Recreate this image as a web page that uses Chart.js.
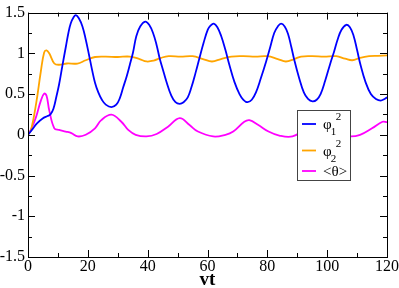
<!DOCTYPE html>
<html>
<head>
<meta charset="utf-8">
<script src="https://cdn.jsdelivr.net/npm/chart.js@4"></script>
<style>
  html, body { margin: 0; padding: 0; background: #fff; }
</style>
</head>
<body>
<canvas id="chart" width="399" height="288"></canvas>
<script>
// phi_1^2
const phi1X = [0, 1.5, 3, 4.9, 6.5, 7.5, 8.5, 9.5, 10.4, 11.5, 12.7, 13.5, 14.3, 15.2, 16, 17, 18.2, 19.3, 20.4, 21.4,
  22.4, 23.5, 24.7, 26, 27.9, 29.5, 30.7, 31.8, 33, 34, 35.1, 36.2, 37.5, 39.2, 40.5, 41.8, 43, 44, 45.1, 46.2,
  47.9, 49.3, 50.7, 52, 53.4, 54.6, 56, 57.3, 58.7, 60.1, 61, 62.1, 63.3, 64.6, 66, 67.3, 69, 70.7, 72, 73.4,
  74.8, 76.2, 77.8, 79.6, 81, 82.3, 83.5, 84.6, 85.8, 86.9, 88, 89, 90.6, 92.2, 93.6, 95.1, 96.5, 97.8, 99.3, 101,
  102.3, 103.5, 104.8, 106.4, 107.6, 108.8, 110, 111.2, 112.8, 114.6, 116.3, 117.9, 119.2, 120];
const phi1Y = [0, 0.07, 0.14, 0.2, 0.23, 0.25, 0.32, 0.47, 0.62, 0.85, 1.09, 1.25, 1.37, 1.44, 1.47, 1.43, 1.33, 1.17, 0.98, 0.8,
  0.64, 0.52, 0.43, 0.37, 0.34, 0.37, 0.45, 0.58, 0.72, 0.855, 1.01, 1.21, 1.33, 1.39, 1.35, 1.25, 1.1, 0.94, 0.8, 0.66,
  0.48, 0.4, 0.38, 0.4, 0.46, 0.58, 0.76, 0.94, 1.13, 1.29, 1.34, 1.365, 1.32, 1.21, 1.04, 0.86, 0.65, 0.5, 0.43, 0.4,
  0.43, 0.52, 0.69, 0.9, 1.08, 1.25, 1.33, 1.365, 1.33, 1.24, 1.08, 0.92, 0.7, 0.52, 0.44, 0.41, 0.43, 0.5, 0.66, 0.87,
  1.02, 1.17, 1.29, 1.35, 1.32, 1.22, 1.04, 0.85, 0.65, 0.5, 0.44, 0.42, 0.44, 0.46];

// phi_2^2
const phi2X = [0, 1, 2.7, 4.3, 5.4, 6.2, 7.1, 8.8, 10.4, 13, 16.5, 19.3, 22.4, 26, 30, 34, 37.3, 39.6, 42, 44.5,
  47, 51, 55, 58.5, 61.5, 64.5, 68, 72, 76, 80, 83.5, 86.2, 89, 91.3, 95, 99, 103, 106, 108.4, 111, 114, 117, 120];
const phi2Y = [0, 0.06, 0.38, 0.78, 1.01, 1.035, 1.0, 0.875, 0.86, 0.875, 0.875, 0.915, 0.955, 0.96, 0.955, 0.96, 0.93, 0.9, 0.91, 0.945,
  0.965, 0.96, 0.965, 0.93, 0.9, 0.93, 0.96, 0.965, 0.96, 0.965, 0.93, 0.9, 0.93, 0.96, 0.965, 0.96, 0.965, 0.935, 0.915, 0.945, 0.965, 0.97, 0.975];

// <theta>
const thetaX = [0, 1.2, 2.7, 4.3, 5.4, 6.2, 7.1, 8.8, 10.4, 12.6, 14.5, 16.6, 19.3, 22.4, 24.5, 27.9, 31.2, 33.5, 36, 39.6,
  43, 46.8, 50.7, 54, 56.8, 61.9, 66, 68.6, 72.3, 74, 77, 80.4, 84, 88.4, 92, 95.5, 99, 103, 107.6, 111, 115, 118.5, 120];
const thetaY = [0, 0.08, 0.22, 0.42, 0.506, 0.48, 0.3, 0.08, 0.06, 0.04, 0.02, -0.02, 0, 0.08, 0.18, 0.247, 0.16, 0.06, 0, -0.02,
  0.01, 0.1, 0.205, 0.12, 0.04, -0.02, 0, 0.04, 0.16, 0.18, 0.12, 0.04, -0.01, -0.02, 0.06, 0.17, 0.1, 0.01, -0.02, 0, 0.08, 0.16, 0.155];

// legend text: [symbol, subscript, superscript]
const legendNames = [["φ", "1", "2"], ["φ", "2", "2"], ["<θ>", "", ""]];
const lineColors = ["#0000ff", "#ffa500", "#ff00ff"];

function toPoints(xs, ys) {
  return xs.map((x, i) => ({ x: x, y: ys[i] }));
}

// first installed serif face
const probe = document.createElement("canvas").getContext("2d");
function pickFont(list) {
  const sample = "vt0123456789.-<>";
  probe.font = "40px monospace";
  const base = probe.measureText(sample).width;
  for (const f of list) {
    probe.font = '40px "' + f + '", monospace';
    if (Math.abs(probe.measureText(sample).width - base) > 0.5) return '"' + f + '"';
  }
  return "serif";
}
const serif = pickFont(["Liberation Serif", "Times New Roman", "Tinos", "Noto Serif", "DejaVu Serif"]);
// size the tick font so that "100" is about 25px wide, as in the picture
probe.font = "100px " + serif;
const tickSize = Math.min(16, Math.round(25 / (probe.measureText("100").width / 100)));

// ticks pointing inwards on all four sides, plus the frame
const framePlugin = {
  id: "frame",
  afterDraw(chart) {
    const ctx = chart.ctx;
    const a = chart.chartArea;
    const xs = chart.scales.x;
    const ys = chart.scales.y;
    ctx.save();
    ctx.strokeStyle = "#000";
    ctx.lineWidth = 1;
    ctx.beginPath();
    const xt = xs.ticks.map(t => t.value);
    xt.forEach((v, i) => {
      const p = Math.round(xs.getPixelForValue(v)) + 0.5;
      ctx.moveTo(p, a.bottom); ctx.lineTo(p, a.bottom - 7);
      ctx.moveTo(p, a.top); ctx.lineTo(p, a.top + 7);
      if (i < xt.length - 1) {
        const m = Math.round(xs.getPixelForValue((v + xt[i + 1]) / 2)) + 0.5;
        ctx.moveTo(m, a.bottom); ctx.lineTo(m, a.bottom - 4);
        ctx.moveTo(m, a.top); ctx.lineTo(m, a.top + 4);
      }
    });
    const yt = ys.ticks.map(t => t.value);
    yt.forEach((v, i) => {
      const p = Math.round(ys.getPixelForValue(v)) + 0.5;
      ctx.moveTo(a.left, p); ctx.lineTo(a.left + 7, p);
      ctx.moveTo(a.right, p); ctx.lineTo(a.right - 7, p);
      if (i < yt.length - 1) {
        const m = Math.round(ys.getPixelForValue((v + yt[i + 1]) / 2)) + 0.5;
        ctx.moveTo(a.left, m); ctx.lineTo(a.left + 4, m);
        ctx.moveTo(a.right, m); ctx.lineTo(a.right - 4, m);
      }
    });
    ctx.stroke();
    ctx.strokeRect(Math.round(a.left) + 0.5, Math.round(a.top) + 0.5,
      Math.round(a.right - a.left), Math.round(a.bottom - a.top));

    // legend box
    const bx = 297.5, by = 110.5, bw = 53, bh = 70;
    ctx.fillStyle = "#fff";
    ctx.fillRect(bx, by, bw, bh);
    ctx.strokeStyle = "#444";
    ctx.strokeRect(bx, by, bw, bh);
    const rows = [124, 150.5, 171];
    chart.data.datasets.forEach((ds, i) => {
      const y = rows[i];
      ctx.strokeStyle = ds.borderColor;
      ctx.lineWidth = 1.8;
      ctx.beginPath();
      ctx.moveTo(302, y); ctx.lineTo(316, y);
      ctx.stroke();
      const n = legendNames[i];
      ctx.fillStyle = "#000";
      ctx.textBaseline = "alphabetic";
      ctx.font = "15px " + serif;
      ctx.fillText(n[0], 323, y + 5);
      const w = ctx.measureText(n[0]).width;
      ctx.font = "11px " + serif;
      if (n[1]) ctx.fillText(n[1], 323 + w - 1, y + 11);
      if (n[2]) ctx.fillText(n[2], 323 + w + 4, y - 4);
    });
    ctx.restore();
  }
};

new Chart(document.getElementById("chart"), {
  type: "line",
  data: {
    datasets: [
      { label: "φ1²", data: toPoints(phi1X, phi1Y), borderColor: lineColors[0] },
      { label: "φ2²", data: toPoints(phi2X, phi2Y), borderColor: lineColors[1] },
      { label: "<θ>", data: toPoints(thetaX, thetaY), borderColor: lineColors[2] },
    ],
  },
  options: {
    responsive: false,
    animation: false,
    devicePixelRatio: 1,
    layout: { padding: { left: 0, right: 12, top: 6, bottom: 0 } },
    elements: {
      line: { borderWidth: 1.8, fill: false, tension: 0.4 },
      point: { radius: 0 },
    },
    plugins: {
      legend: { display: false },
      tooltip: { enabled: false },
    },
    scales: {
      x: {
        type: "linear",
        min: 0,
        max: 120,
        ticks: { stepSize: 20, color: "#000", padding: 0, maxRotation: 0, font: { family: serif, size: tickSize } },
        grid: { display: false, drawTicks: false },
        border: { display: false },
        title: { display: true, text: "vt", color: "#000", padding: { top: 0, bottom: -3 }, font: { family: serif, size: tickSize + 3, weight: "bold" } },
        afterFit(s) { s.height = 31; },
      },
      y: {
        min: -1.5,
        max: 1.5,
        ticks: {
          stepSize: 0.5, color: "#000", padding: 3, font: { family: serif, size: tickSize },
          callback: v => String(Math.round(v * 100) / 100),
        },
        grid: { display: false, drawTicks: false },
        border: { display: false },
        afterFit(s) { s.width = 28; },
      },
    },
  },
  plugins: [framePlugin],
});
</script>
</body>
</html>
